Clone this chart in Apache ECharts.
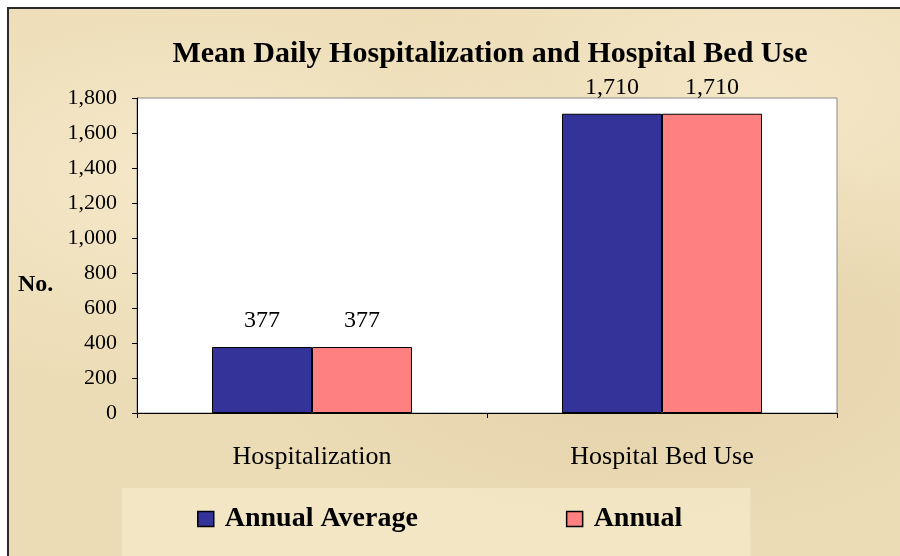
<!DOCTYPE html>
<html>
<head>
<meta charset="utf-8">
<script src="https://cdn.jsdelivr.net/npm/echarts@6/dist/echarts.min.js"></script>
<style>
  html, body { margin: 0; padding: 0; background: #ffffff; }
  #frame {
    position: absolute; left: 7px; top: 7px; width: 893px; height: 549px;
    border-top: 2px solid #2a2a2a; border-left: 2px solid #2a2a2a;
    background: #ecdcb6;
    background-image:
      radial-gradient(ellipse at 20% 30%, rgba(255,245,220,0.5), rgba(255,245,220,0) 40%),
      radial-gradient(ellipse at 70% 60%, rgba(210,185,140,0.35), rgba(210,185,140,0) 45%),
      radial-gradient(ellipse at 85% 15%, rgba(255,245,220,0.45), rgba(255,245,220,0) 35%);
  }
  #main { position: absolute; left: 0; top: 0; width: 900px; height: 556px; }
</style>
</head>
<body>
<div id="frame"></div>
<div id="main"></div>
<script>
var categories = ['Hospitalization', 'Hospital Bed Use'];
var seriesNames = ['Annual Average', 'Annual'];
var annualAverage = [377, 1710];
var annual = [377, 1710];
var yTicks = { min: 0, max: 1800, step: 200 };

var serif = '"Liberation Serif", "Times New Roman", serif';

function fmt(v) {
    return String(v).replace(/\B(?=(\d{3})+(?!\d))/g, ',');
}

var chart = echarts.init(document.getElementById('main'));

var option = {
    backgroundColor: 'transparent',
    animation: false,
    title: {
        text: 'Mean Daily Hospitalization and Hospital Bed Use',
        left: 485,
        top: 34,
        textAlign: 'center',
        textStyle: { fontFamily: serif, fontWeight: 'bold', fontSize: 30, color: '#000' }
    },
    legend: {
        data: seriesNames,
        left: 122,
        top: 488,
        orient: 'horizontal',
        icon: 'rect',
        backgroundColor: 'rgba(247,236,206,0.6)',
        padding: [17, 68, 40, 75],
        itemWidth: 16,
        itemHeight: 15,
        itemGap: 148,
        itemStyle: { borderColor: '#000', borderWidth: 1.5 },
        textStyle: { fontFamily: serif, fontWeight: 'bold', fontSize: 28, color: '#000', padding: [0, 0, 0, 6] }
    },
    graphic: [{
        type: 'text',
        left: 18,
        top: 273,
        style: { text: 'No.', font: 'bold 24px ' + serif, fill: '#000' }
    }],
    grid: {
        left: 137, right: 63, top: 98, bottom: 143,
        show: true,
        backgroundColor: '#ffffff',
        borderColor: '#8a8a8a',
        borderWidth: 1
    },
    xAxis: {
        type: 'category',
        data: categories,
        axisLine: { lineStyle: { color: '#000', width: 1 } },
        axisTick: { show: true, length: 5, lineStyle: { color: '#000' } },
        axisLabel: { margin: 31, fontFamily: serif, fontSize: 26, color: '#000' }
    },
    yAxis: {
        type: 'value',
        min: yTicks.min,
        max: yTicks.max,
        interval: yTicks.step,
        splitLine: { show: false },
        axisLine: { show: true, lineStyle: { color: '#000', width: 1 } },
        axisTick: { show: true, length: 5, lineStyle: { color: '#000' } },
        axisLabel: { margin: 20, fontFamily: serif, fontSize: 22, color: '#000', formatter: fmt }
    },
    series: [{
        name: seriesNames[0],
        type: 'bar',
        data: annualAverage,
        barWidth: 100,
        barGap: '0%',
        itemStyle: { color: '#333399', borderColor: '#000', borderWidth: 1 },
        label: { show: true, position: 'top', distance: 14, fontFamily: serif, fontSize: 24, color: '#000', formatter: function (p) { return fmt(p.value); } }
    }, {
        name: seriesNames[1],
        type: 'bar',
        data: annual,
        barWidth: 100,
        barGap: '0%',
        itemStyle: { color: '#ff8080', borderColor: '#000', borderWidth: 1 },
        label: { show: true, position: 'top', distance: 14, fontFamily: serif, fontSize: 24, color: '#000', formatter: function (p) { return fmt(p.value); } }
    }]
};

chart.setOption(option);
</script>
</body>
</html>
